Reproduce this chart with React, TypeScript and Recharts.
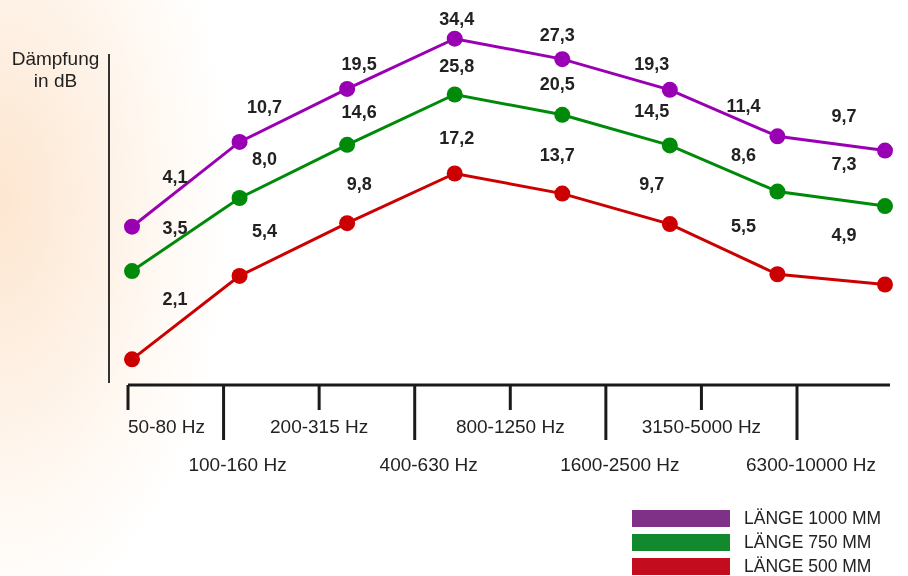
import { Legend, LabelList, Line, LineChart, XAxis, YAxis } from "recharts";

// frequency bands on the x axis
const bands = [
  "50-80 Hz",
  "100-160 Hz",
  "200-315 Hz",
  "400-630 Hz",
  "800-1250 Hz",
  "1600-2500 Hz",
  "3150-5000 Hz",
  "6300-10000 Hz",
];

// attenuation in dB per length
const laenge1000 = [4.1, 10.7, 19.5, 34.4, 27.3, 19.3, 11.4, 9.7];
const laenge750 = [3.5, 8.0, 14.6, 25.8, 20.5, 14.5, 8.6, 7.3];
const laenge500 = [2.1, 5.4, 9.8, 17.2, 13.7, 9.7, 5.5, 4.9];

const data = bands.map((band, i) => ({
  band,
  l1000: laenge1000[i],
  l750: laenge750[i],
  l500: laenge500[i],
}));

const FONT = '"Liberation Sans", Arial, Helvetica, sans-serif';
const INK = "#222";

// the original staggers the three curves: same log scale, each shifted vertically
const SERIES = [
  { key: "l1000", name: "LÄNGE 1000 MM", line: "#9900b3", swatch: "#7f3087", domain: [0.684, 47.6] },
  { key: "l750", name: "LÄNGE 750 MM", line: "#008a0a", swatch: "#12882f", domain: [0.964, 67.1] },
  { key: "l500", name: "LÄNGE 500 MM", line: "#cc0000", swatch: "#c40c1f", domain: [1.571, 109.4] },
];

// value labels sit up and toward the middle of the chart
const LABEL_DX = [43, 25, 12, 2, -5, -18, -34, -41];
const LABEL_DY: Record<string, number[]> = {
  l1000: [-50, -35, -25, -20, -24, -26, -30, -35],
  l750: [-43, -39, -33, -28, -31, -34, -37, -42],
  l500: [-60, -45, -39, -36, -39, -40, -48, -49],
};

const fmt = (v: number) => v.toFixed(1).replace(".", ",");

function makeValueLabel(key: string) {
  return (props: any) => {
    const i = props.index ?? 0;
    return (
      <text
        x={props.x + LABEL_DX[i]}
        y={props.y + LABEL_DY[key][i]}
        textAnchor="middle"
        dominantBaseline="central"
        fontFamily={FONT}
        fontSize={18}
        fontWeight={700}
        fill={INK}
      >
        {fmt(Number(props.value))}
      </text>
    );
  };
}

function BandTick(props: any) {
  const { x, y, payload } = props;
  const i = Number(payload.value);
  const long = i % 2 === 1;
  let tx = x;
  let anchor: "start" | "middle" = "middle";
  if (i === 0) anchor = "start";
  if (long) tx = x + 14;
  return (
    <g>
      <line x1={x} x2={x} y1={y} y2={y + (long ? 55 : 25)} stroke="#1a1a1a" strokeWidth={3} />
      <text
        x={tx}
        y={y + (long ? 79 : 41)}
        textAnchor={anchor}
        dominantBaseline="central"
        fontFamily={FONT}
        fontSize={19}
        fill={INK}
      >
        {bands[i]}
      </text>
    </g>
  );
}

// y axis title and the free-standing vertical rule left of the plot
function AxisTitle() {
  return (
    <g>
      <text x={55.5} y={65} textAnchor="middle" fontFamily={FONT} fontSize={19} fill={INK}>
        Dämpfung
      </text>
      <text x={55.5} y={87} textAnchor="middle" fontFamily={FONT} fontSize={19} fill={INK}>
        in dB
      </text>
      <line x1={109} x2={109} y1={54} y2={383} stroke="#333" strokeWidth={2} />
    </g>
  );
}

function LegendBox() {
  return (
    <div style={{ fontFamily: FONT }}>
      {SERIES.map((s) => (
        <div key={s.key} style={{ display: "flex", alignItems: "center", height: 24 }}>
          <div style={{ width: 98, height: 17, background: s.swatch }} />
          <span style={{ marginLeft: 14, fontSize: 17.5, color: INK, lineHeight: "17px" }}>{s.name}</span>
        </div>
      ))}
    </div>
  );
}

export default function App() {
  return (
    <div
      style={{
        position: "fixed",
        left: 0,
        top: 0,
        width: 908,
        height: 576,
        background:
          "radial-gradient(ellipse 230px 430px at 0px 200px, #fde6d0 0%, #fef0e3 40%, #fff9f3 72%, #ffffff 100%)",
      }}
    >
      <LineChart width={908} height={576} data={data} margin={{ top: 10, right: 18, bottom: 0, left: 0 }}>
        <XAxis xAxisId="pts" dataKey="band" hide padding={{ left: 4, right: 5 }} />
        <XAxis
          xAxisId="band"
          type="number"
          domain={[0, 7]}
          padding={{ left: 0, right: 93 }}
          ticks={[0, 1, 2, 3, 4, 5, 6, 7]}
          height={191}
          axisLine={{ stroke: "#1a1a1a", strokeWidth: 3 }}
          tickLine={false}
          tickSize={0}
          tickMargin={0}
          interval={0}
          tick={<BandTick />}
        />
        <YAxis yAxisId="l1000" type="number" scale="log" domain={SERIES[0].domain} hide />
        <YAxis
          yAxisId="l750"
          type="number"
          scale="log"
          domain={SERIES[1].domain}
          width={128}
          axisLine={false}
          tickLine={false}
          tick={false}
          label={<AxisTitle />}
        />
        <YAxis yAxisId="l500" type="number" scale="log" domain={SERIES[2].domain} hide />
        {SERIES.map((s) => (
          <Line
            key={s.key}
            xAxisId="pts"
            yAxisId={s.key}
            dataKey={s.key}
            name={s.name}
            type="linear"
            stroke={s.line}
            strokeWidth={3}
            dot={{ r: 8, fill: s.line, stroke: s.line, strokeWidth: 0 }}
            activeDot={false}
            isAnimationActive={false}
          >
            <LabelList dataKey={s.key} content={makeValueLabel(s.key)} />
          </Line>
        ))}
        <Legend
          layout="vertical"
          align="center"
          verticalAlign="middle"
          wrapperStyle={{ left: 632, top: 506, width: 270 }}
          content={<LegendBox />}
        />
      </LineChart>
    </div>
  );
}
